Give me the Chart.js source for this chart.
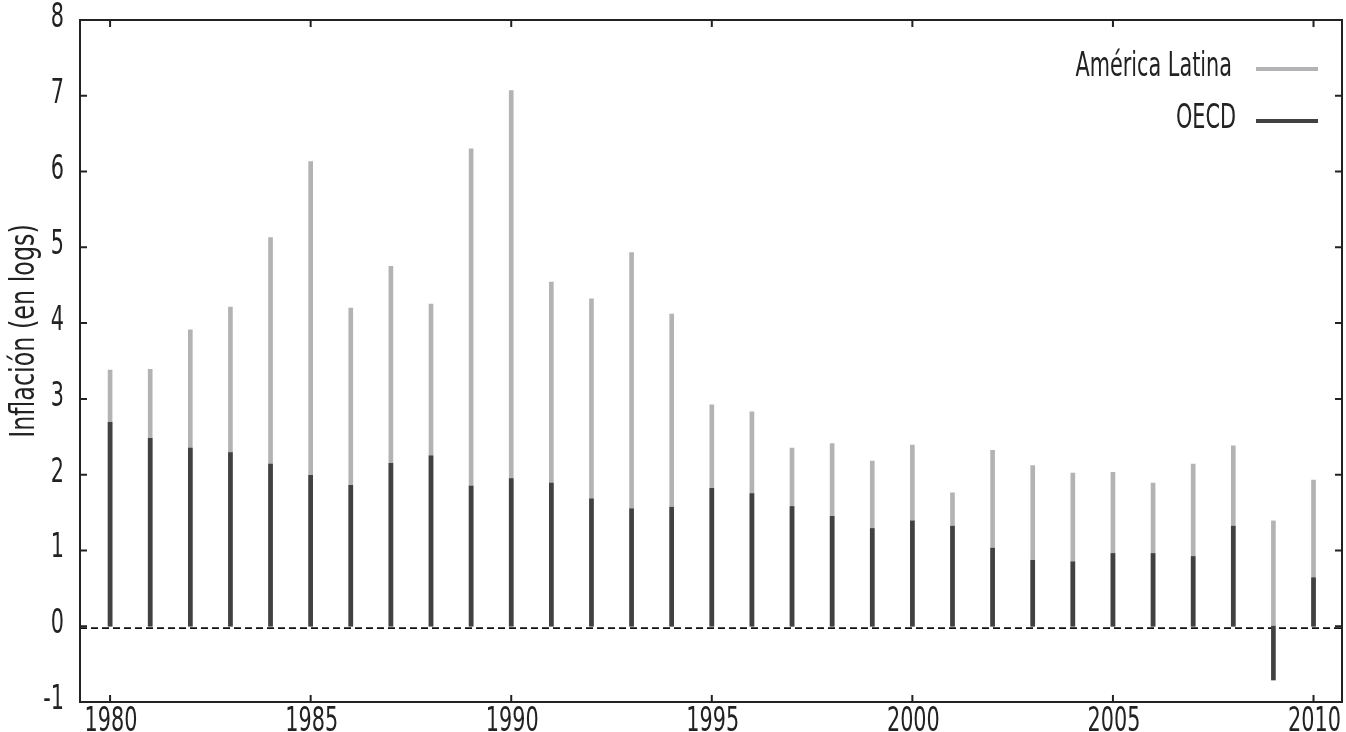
<!DOCTYPE html>
<html>
<head>
<meta charset="utf-8">
<script src="https://cdn.jsdelivr.net/npm/chart.js@4.4.0/dist/chart.umd.min.js"></script>
<style>
  html, body { margin: 0; padding: 0; background: #fff; }
  #wrap { width: 1346px; height: 732px; position: relative; }
</style>
</head>
<body>
<div id="wrap"><canvas id="chart" width="1346" height="732"></canvas></div>
<script>
// Datos (inflación en logs)
const years = [1980, 1981, 1982, 1983, 1984, 1985, 1986, 1987, 1988, 1989, 1990,
               1991, 1992, 1993, 1994, 1995, 1996, 1997, 1998, 1999, 2000,
               2001, 2002, 2003, 2004, 2005, 2006, 2007, 2008, 2009, 2010];
const latam = [3.38, 3.39, 3.91, 4.21, 5.13, 6.13, 4.20, 4.75, 4.25, 6.30, 7.07,
               4.54, 4.32, 4.93, 4.12, 2.92, 2.83, 2.35, 2.41, 2.18, 2.39,
               1.76, 2.32, 2.12, 2.02, 2.03, 1.89, 2.14, 2.38, 1.39, 1.93];
const oecd  = [2.69, 2.48, 2.35, 2.29, 2.14, 1.99, 1.86, 2.15, 2.25, 1.85, 1.95,
               1.89, 1.68, 1.55, 1.57, 1.82, 1.75, 1.58, 1.45, 1.29, 1.39,
               1.32, 1.03, 0.87, 0.85, 0.96, 0.96, 0.92, 1.32, -0.71, 0.64];
const yTicks = [-1, 0, 1, 2, 3, 4, 5, 6, 7, 8];
const xTicks = [1980, 1985, 1990, 1995, 2000, 2005, 2010];
const seriesNames = ['América Latina', 'OECD'];
const yTitle = 'Inflación (en logs)';

const FONT = "'DejaVu Sans Condensed', 'DejaVu Sans', sans-serif";
const GRAY = '#b3b3b5';
const DARK = '#414141';
const INK = '#222222';

// texto angosto (la fuente original es una condensada)
function narrowText(ctx, text, x, y, size, sx, align) {
    ctx.save();
    ctx.translate(x, y);
    ctx.scale(sx, 1);
    ctx.font = size + 'px ' + FONT;
    ctx.textAlign = align;
    ctx.textBaseline = 'alphabetic';
    ctx.fillStyle = INK;
    ctx.fillText(text, 0, 0);
    ctx.restore();
}

// marco, marcas hacia adentro, línea de cero, etiquetas, leyenda y título
const framePlugin = {
    id: 'frame',
    beforeDatasetsDraw(chart) {
        const ctx = chart.ctx;
        const a = chart.chartArea;
        const y0 = chart.scales.y.getPixelForValue(0) + 2;
        ctx.save();
        ctx.strokeStyle = '#111';
        ctx.lineWidth = 1.8;
        ctx.setLineDash([7, 4]);
        ctx.beginPath();
        ctx.moveTo(a.left, y0);
        ctx.lineTo(a.right, y0);
        ctx.stroke();
        ctx.restore();
    },
    afterDraw(chart) {
        const ctx = chart.ctx;
        const a = chart.chartArea;
        const xs = chart.scales.x;
        const ys = chart.scales.y;
        const tl = 7;
        ctx.save();
        ctx.strokeStyle = INK;
        ctx.lineWidth = 2;
        ctx.strokeRect(a.left, a.top, a.right - a.left, a.bottom - a.top);
        ctx.beginPath();
        xTicks.forEach(v => {
            const px = xs.getPixelForValue(v);
            ctx.moveTo(px, a.bottom); ctx.lineTo(px, a.bottom - tl);
            ctx.moveTo(px, a.top); ctx.lineTo(px, a.top + tl);
        });
        yTicks.forEach(v => {
            const py = ys.getPixelForValue(v);
            ctx.moveTo(a.left, py); ctx.lineTo(a.left + tl, py);
            ctx.moveTo(a.right, py); ctx.lineTo(a.right - tl, py);
        });
        ctx.stroke();
        ctx.restore();

        // etiquetas de los ejes
        xTicks.forEach(v => {
            narrowText(ctx, String(v), xs.getPixelForValue(v) + 1, 731, 34, 0.68, 'center');
        });
        yTicks.forEach(v => {
            narrowText(ctx, String(v), 64, ys.getPixelForValue(v) + 7, 34, 0.68, 'right');
        });

        // leyenda: texto a la izquierda de la línea
        const colors = [GRAY, DARK];
        const rows = [69, 121];
        const textRight = [1232, 1236];
        seriesNames.forEach((name, i) => {
            narrowText(ctx, name, textRight[i], rows[i] + 7, 34, 0.68, 'right');
            ctx.save();
            ctx.strokeStyle = colors[i];
            ctx.lineWidth = 4;
            ctx.beginPath();
            ctx.moveTo(1256, rows[i]);
            ctx.lineTo(1318, rows[i]);
            ctx.stroke();
            ctx.restore();
        });

        // título del eje y
        ctx.save();
        ctx.translate(34, 331);
        ctx.rotate(-Math.PI / 2);
        narrowText(ctx, yTitle, 0, 0, 34, 0.78, 'center');
        ctx.restore();
    }
};

const ctx = document.getElementById('chart').getContext('2d');
new Chart(ctx, {
    type: 'bar',
    data: {
        datasets: [
            {
                label: seriesNames[1],
                data: years.map((yr, i) => ({ x: yr, y: oecd[i] })),
                backgroundColor: DARK,
                order: 1
            },
            {
                label: seriesNames[0],
                data: years.map((yr, i) => ({ x: yr, y: latam[i] })),
                backgroundColor: GRAY,
                order: 2
            }
        ]
    },
    options: {
        responsive: false,
        animation: false,
        grouped: false,
        barThickness: 4,
        layout: { padding: { top: 20, right: 4, left: 0, bottom: 0 } },
        plugins: {
            legend: { display: false },
            tooltip: { enabled: false }
        },
        scales: {
            x: {
                type: 'linear',
                offset: false,
                min: 1979.25,
                max: 2010.71,
                afterBuildTicks: s => { s.ticks = xTicks.map(v => ({ value: v })); },
                afterFit: s => { s.height = 30; s.paddingLeft = 0; s.paddingRight = 0; },
                grid: { display: false, drawTicks: false },
                border: { display: false },
                ticks: { display: false }
            },
            y: {
                min: -1,
                max: 8,
                afterBuildTicks: s => { s.ticks = yTicks.map(v => ({ value: v })); },
                afterFit: s => { s.width = 80; s.paddingTop = 0; s.paddingBottom = 0; },
                grid: { display: false, drawTicks: false },
                border: { display: false },
                ticks: { display: false }
            }
        }
    },
    plugins: [framePlugin]
});
</script>
</body>
</html>
